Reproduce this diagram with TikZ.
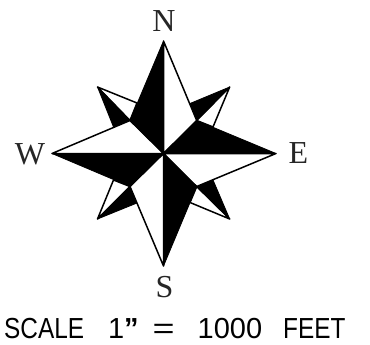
\documentclass[tikz,border=0pt]{standalone}
\usepackage{fontspec}
\setmainfont{Liberation Serif}
\newfontfamily\capfont[FakeStretch=0.84]{Liberation Sans}
\newfontfamily\digfont{Liberation Sans}
\newfontfamily\wideglyph[FakeStretch=1.3]{Liberation Sans}
\newfontfamily\quotefont{Liberation Sans Bold}
\tikzset{
  blackpart/.style={fill=black,draw=black,line width=0.8pt,line join=round},
  whitepart/.style={fill=white,draw=black,line width=1.5pt,line join=round},
  compass/.style={font=\fontsize{32}{32}\selectfont,inner sep=0pt,text=black!85},
  caption/.style={font=\fontsize{29}{29}\selectfont,inner sep=0pt,anchor=base west}
}
\begin{document}
\begin{tikzpicture}[x=1pt,y=-1pt]
\useasboundingbox (0,0) rectangle (370,345);
\coordinate (C) at (163.5,153.5);
\coordinate (N) at (163.5,41);
\coordinate (S) at (163.5,266);
\coordinate (W) at (52,153.5);
\coordinate (E) at (276,153.5);
\coordinate (NEt) at (229.7,87);
\coordinate (NWt) at (97.5,87);
\coordinate (SEt) at (229.7,219);
\coordinate (SWt) at (97.5,219);
\coordinate (NEi) at (196.7,120.5);
\coordinate (NWi) at (130,120.5);
\coordinate (SEi) at (196.7,186.5);
\coordinate (SWi) at (130,186.5);
% secondary points
\draw[whitepart] (NWt) -- (137,103) -- (NWi) -- cycle;
\draw[blackpart] (NWt) -- (NWi) -- (113.5,127) -- cycle;
\draw[whitepart] (NEt) -- (NEi) -- (213,127) -- cycle;
\draw[blackpart] (NEt) -- (NEi) -- (190,103.5) -- cycle;
\draw[whitepart] (SEt) -- (SEi) -- (190,202.5) -- cycle;
\draw[blackpart] (SEt) -- (SEi) -- (213,180) -- cycle;
\draw[whitepart] (SWt) -- (SWi) -- (113.5,180) -- cycle;
\draw[blackpart] (SWt) -- (SWi) -- (137,203) -- cycle;
% main points
\draw[whitepart] (N) -- (NEi) -- (C) -- cycle;
\draw[whitepart] (E) -- (SEi) -- (C) -- cycle;
\draw[whitepart] (S) -- (SWi) -- (C) -- cycle;
\draw[whitepart] (W) -- (NWi) -- (C) -- cycle;
\draw[blackpart] (N) -- (NWi) -- (C) -- cycle;
\draw[blackpart] (E) -- (NEi) -- (C) -- cycle;
\draw[blackpart] (S) -- (SEi) -- (C) -- cycle;
\draw[blackpart] (W) -- (SWi) -- (C) -- cycle;
% labels
\node[compass] (lN) at (164,21) {N};
\node[compass] (lS) at (164.5,287.5) {S};
\node[compass] (lW) at (30,154.5) {W};
\node[compass] (lE) at (298.5,153) {E};
\node[caption] (cap) at (4,338) {\capfont SCALE\hspace{24pt}\digfont 1\quotefont ”\hspace{14pt}\wideglyph =\hspace{23pt}\digfont 1000\hspace{21pt}\capfont FEET};
\end{tikzpicture}
\end{document}
